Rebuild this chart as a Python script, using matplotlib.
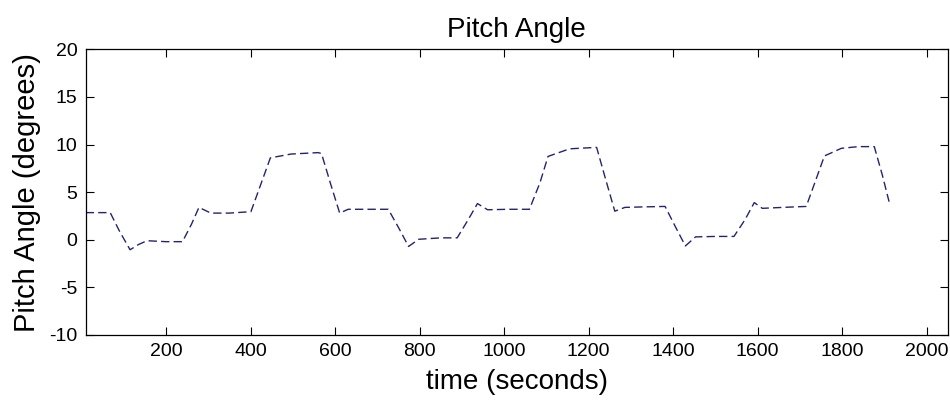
import matplotlib
matplotlib.use("Agg")
import matplotlib.pyplot as plt

# pitch angle trace
time_s = [10, 68, 90, 115, 135, 155, 200, 239, 260, 278, 292, 306, 350, 401, 425, 447,
          496, 560, 568, 590, 611, 631, 680, 726, 750, 774, 798, 850, 889, 915, 937,
          961, 1010, 1060, 1085, 1104, 1155, 1219, 1240, 1262, 1286, 1330, 1381, 1405,
          1429, 1453, 1500, 1544, 1570, 1592, 1611, 1660, 1715, 1737, 1758, 1798, 1838,
          1876, 1895, 1911]
pitch_deg = [2.85, 2.85, 0.9, -1.05, -0.5, -0.1, -0.2, -0.2, 1.6, 3.4, 3.1, 2.8, 2.8, 2.95,
             5.9, 8.6, 9.0, 9.15, 9.05, 5.8, 2.8, 3.2, 3.2, 3.2, 1.3, -0.7, 0.05, 0.2,
             0.2, 2.1, 3.8, 3.15, 3.2, 3.2, 6.0, 8.75, 9.55, 9.7, 6.4, 3.0, 3.4, 3.45,
             3.5, 1.4, -0.65, 0.3, 0.35, 0.35, 2.1, 3.9, 3.3, 3.4, 3.5, 6.2, 8.8, 9.6,
             9.78, 9.78, 6.8, 4.0]

x_ticks = [200, 400, 600, 800, 1000, 1200, 1400, 1600, 1800, 2000]
y_ticks = [-10, -5, 0, 5, 10, 15, 20]

plt.rcParams["font.family"] = ["Liberation Sans", "DejaVu Sans"]
plt.rcParams["axes.unicode_minus"] = False

fig = plt.figure(figsize=(9.5, 4.04), dpi=100)
ax = fig.add_axes([0.0902, 0.1708, 0.9075, 0.7072])

ax.plot(time_s, pitch_deg, color="#24246e", linestyle=(0, (6, 3)), linewidth=1.0)

ax.set_xlim(10, 2050)
ax.set_ylim(-10, 20)
ax.set_xticks(x_ticks)
ax.set_yticks(y_ticks)
ax.tick_params(direction="in", length=6, width=0.8, top=True, right=True,
               labelsize=14, pad=6)
for sp in ax.spines.values():
    sp.set_linewidth(0.9)

ax.set_title("Pitch Angle", fontsize=20, pad=9)
ax.set_xlabel("time (seconds)", fontsize=20, labelpad=6)
ax.set_ylabel("Pitch Angle (degrees)", fontsize=21, labelpad=6)

fig.savefig("out.png", dpi=100)
